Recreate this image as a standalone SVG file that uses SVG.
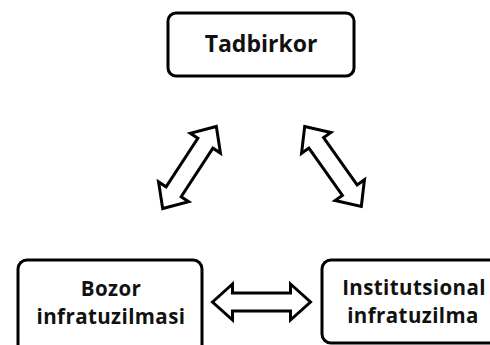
<svg xmlns="http://www.w3.org/2000/svg" width="490" height="345" viewBox="0 0 490 345">
  <style>
    .box { fill: #ffffff; stroke: #000000; stroke-width: 3; }
    .lbl { font-family: "Open Sans", "DejaVu Sans", sans-serif; font-weight: bold; font-size: 20.5px; letter-spacing: 0.4px; fill: #111111; text-anchor: middle; }
    .arr { fill: #ffffff; stroke: #000000; stroke-width: 3; stroke-linejoin: miter; }
  </style>
  <defs>
    <path id="dbl" d="M -49 0 L -29 -18 L -29 -9 L 29 -9 L 29 -18 L 49 0 L 29 18 L 29 9 L -29 9 L -29 18 Z"/>
  </defs>
  <rect width="490" height="345" fill="#ffffff"/>
  <g id="connectors">
    <use href="#dbl" class="arr" transform="translate(261.5 302)"/>
    <use href="#dbl" class="arr" transform="translate(189.5 167.5) rotate(-56.8)"/>
    <use href="#dbl" class="arr" transform="translate(333 166.5) rotate(54.7)"/>
  </g>
  <g id="tadbirkor">
    <rect class="box" x="168" y="13" width="186" height="63" rx="8"/>
    <text class="lbl" x="261" y="52" style="font-size:23px;letter-spacing:0">Tadbirkor</text>
  </g>
  <g id="bozor">
    <rect class="box" x="18" y="260" width="184" height="100" rx="9"/>
    <text class="lbl" x="111" y="296">Bozor</text>
    <text class="lbl" x="111" y="324">infratuzilmasi</text>
  </g>
  <g id="institutsional">
    <rect class="box" x="322" y="260" width="186" height="83" rx="9"/>
    <text class="lbl" x="414" y="295">Institutsional</text>
    <text class="lbl" x="413" y="323">infratuzilma</text>
  </g>
</svg>
